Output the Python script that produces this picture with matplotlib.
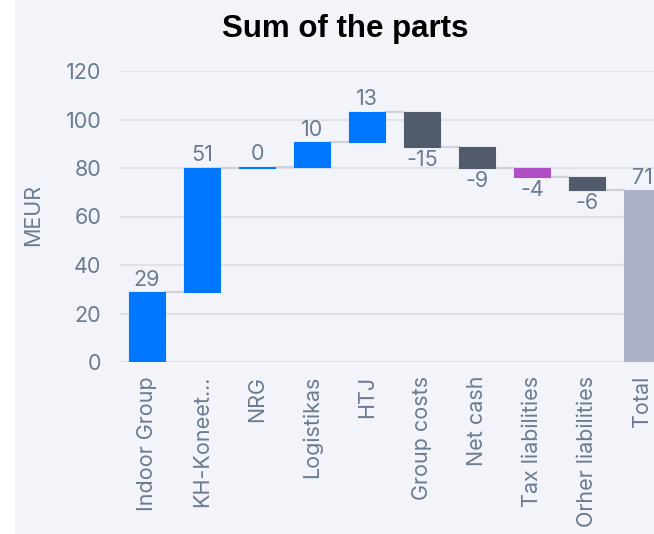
import matplotlib
matplotlib.use("Agg")
import matplotlib.pyplot as plt
from matplotlib.patches import Rectangle

categories = ["Indoor Group", "KH-Koneet...", "NRG", "Logistikas", "HTJ",
              "Group costs", "Net cash", "Tax liabilities", "Orher liabilities", "Total"]
changes = [28.7, 51.2, 0.4, 10.3, 12.6, -14.6, -8.6, -3.6, -5.6]
kinds = ["part", "part", "part", "part", "part", "cost", "cost", "tax", "cost"]
yticks = [0, 20, 40, 60, 80, 100, 120]

colors = {"part": "#0077ff", "cost": "#525b6c", "tax": "#b04fc4", "total": "#adb1c5"}
text_col = "#6b7b91"
grid_col = "#dfe2e8"
panel_col = "#f2f4f9"
fs = 15.5

plt.rcParams["font.family"] = ["Inter", "DejaVu Sans"]

fig = plt.figure(figsize=(6.54, 5.34), dpi=100)
fig.patch.set_facecolor("white")
fig.patches.append(Rectangle((15 / 654, 0), 1, 1, transform=fig.transFigure,
                             facecolor=panel_col, edgecolor="none", zorder=-10))

ax = fig.add_axes([119.5 / 654, 172 / 534, 550 / 654, 291 / 534])
ax.set_facecolor("none")

# running totals
bottoms, heights, cols = [], [], []
running = 0
for v, k in zip(changes, kinds):
    bottoms.append(running if v >= 0 else running + v)
    heights.append(abs(v))
    cols.append(colors[k])
    running += v
total = running
bottoms.append(0)
heights.append(total)
cols.append(colors["total"])
values = changes + [total]

x = list(range(len(categories)))
w = 0.64
ax.bar(x, heights, bottom=bottoms, width=w, color=cols, edgecolor=cols, linewidth=0.8, zorder=3)

# connectors
level = 0
for i, v in enumerate(changes):
    level += v
    ax.plot([i + w / 2, i + 1 - w / 2], [level, level], color="#cfd2d8", lw=1.6, zorder=2)

for i, v in enumerate(values):
    lab = f"{v:.0f}"
    if v >= 0:
        ax.annotate(lab, (i, bottoms[i] + heights[i]), xytext=(0, 2), textcoords="offset points",
                    ha="center", va="bottom", fontsize=fs, color=text_col)
    else:
        ax.annotate(lab, (i, bottoms[i]), xytext=(0, -2), textcoords="offset points",
                    ha="center", va="top", fontsize=fs, color=text_col)

ax.set_xlim(-0.5, len(categories) - 0.5)
ax.set_ylim(0, 120)
ax.set_yticks(yticks)
ax.yaxis.grid(True, color=grid_col, lw=1.5, zorder=0)
ax.set_axisbelow(True)
ax.set_xticks(x)
ax.set_xticklabels(categories, rotation=90, fontsize=fs, color=text_col)
ax.tick_params(axis="both", length=0, labelsize=fs, labelcolor=text_col)
ax.tick_params(axis="y", pad=13)
ax.tick_params(axis="x", pad=10)
for s in ax.spines.values():
    s.set_visible(False)

fig.text(33 / 654, 1 - 215 / 534, "MEUR", rotation=90, ha="center", va="center",
         fontsize=fs, color=text_col)
fig.text(345.5 / 654, 1 - 37 / 534, "Sum of the parts", ha="center", va="baseline",
         fontsize=22.5, fontweight="bold", color="black", family=["Liberation Sans", "DejaVu Sans"])

fig.savefig("out.png", dpi=100)
